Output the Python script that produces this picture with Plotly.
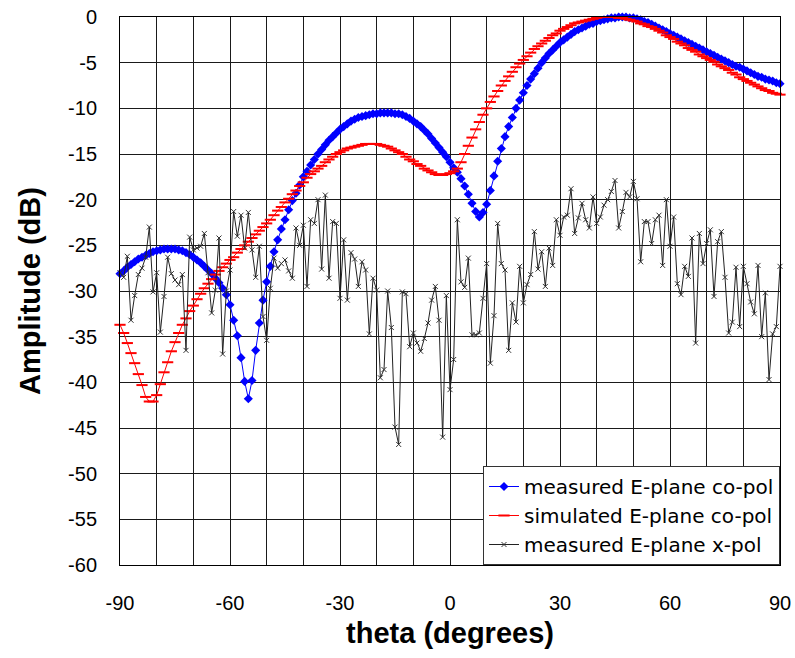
import plotly.graph_objects as go

# ---------------- data ----------------
theta = list(range(-90, 91))

measured_copol = [
    -28.1, -27.8, -27.4, -27.1, -26.8, -26.5, -26.3, -26.1, -25.9, -25.7,   # -90..-81
    -25.6, -25.5, -25.4, -25.4, -25.4, -25.4, -25.5, -25.6, -25.8, -26.0,   # -80..-71
    -26.3, -26.6, -26.9, -27.3, -27.7, -28.1, -28.6, -29.1, -29.7, -30.4,   # -70..-61
    -31.5, -33.2, -34.9, -37.3, -39.9, -41.8, -39.8, -36.5, -33.5, -31.0,   # -60..-51
    -29.0, -27.3, -25.7, -24.4, -23.2, -22.2, -21.1, -20.1, -19.3, -18.4,   # -50..-41
    -17.5, -16.9, -16.2, -15.6, -15.0, -14.5, -14.0, -13.5, -13.1, -12.7,   # -40..-31
    -12.3, -12.0, -11.7, -11.4, -11.2, -11.0, -10.9, -10.8, -10.7, -10.6,   # -30..-21
    -10.6, -10.5, -10.5, -10.5, -10.5, -10.6, -10.6, -10.7, -10.9, -11.1,   # -20..-11
    -11.4, -11.7, -12.0, -12.4, -12.8, -13.3, -13.8, -14.3, -14.8, -15.3,   # -10..-1
    -15.9, -16.5, -17.0, -17.7, -18.5, -19.4, -20.4, -21.3, -21.9, -21.4,   # 0..9
    -20.5, -19.0, -17.4, -15.8, -14.4, -13.1, -12.0, -11.0, -10.0, -9.1,    # 10..19
    -8.3, -7.5, -6.8, -6.2, -5.6, -5.0, -4.5, -4.0, -3.6, -3.2,             # 20..29
    -2.8, -2.5, -2.2, -1.9, -1.6, -1.4, -1.2, -1.0, -0.8, -0.7,             # 30..39
    -0.5, -0.4, -0.3, -0.2, -0.1, -0.1, 0.0, 0.0, 0.0, -0.1,                # 40..49
    -0.1, -0.2, -0.3, -0.5, -0.6, -0.8, -1.0, -1.2, -1.4, -1.6,             # 50..59
    -1.8, -2.0, -2.2, -2.4, -2.6, -2.8, -3.0, -3.2, -3.4, -3.6,             # 60..69
    -3.8, -4.0, -4.2, -4.4, -4.6, -4.8, -5.0, -5.2, -5.4, -5.5,             # 70..79
    -5.7, -5.9, -6.1, -6.3, -6.5, -6.6, -6.8, -6.9, -7.0, -7.2,             # 80..89
    -7.3,                                                                   # 90
]

simulated_copol = [
    -33.7, -34.6, -35.7, -36.8, -37.9, -39.1, -40.3, -41.6, -42.1, -42.1,   # -90..-81
    -41.4, -40.2, -38.9, -37.8, -36.6, -35.6, -34.6, -33.7, -33.0, -32.2,   # -80..-71
    -31.6, -30.9, -30.3, -29.7, -29.2, -28.7, -28.2, -27.8, -27.4, -27.0,   # -70..-61
    -26.6, -26.3, -25.8, -25.4, -25.0, -24.6, -24.2, -23.8, -23.4, -23.0,   # -60..-51
    -22.6, -22.2, -21.7, -21.2, -20.8, -20.3, -19.9, -19.4, -19.0, -18.5,   # -50..-41
    -18.1, -17.6, -17.2, -16.9, -16.6, -16.3, -15.9, -15.6, -15.3, -15.0,   # -40..-31
    -14.8, -14.6, -14.4, -14.3, -14.2, -14.1, -14.0, -13.9, -13.9, -13.9,   # -30..-21
    -13.9, -14.0, -14.1, -14.2, -14.4, -14.6, -14.8, -15.0, -15.3, -15.6,   # -20..-11
    -15.8, -16.1, -16.3, -16.6, -16.8, -17.0, -17.2, -17.3, -17.3, -17.2,   # -10..-1
    -17.1, -16.9, -16.6, -15.9, -15.0, -14.1, -13.2, -12.3, -11.5, -10.7,   # 0..9
    -10.0, -9.3, -8.7, -8.1, -7.5, -7.0, -6.5, -6.0, -5.5, -5.1,            # 10..19
    -4.7, -4.3, -3.9, -3.5, -3.2, -2.9, -2.6, -2.3, -2.0, -1.8,             # 20..29
    -1.5, -1.3, -1.1, -0.9, -0.7, -0.6, -0.5, -0.4, -0.3, -0.2,             # 30..39
    -0.1, 0.0, 0.0, 0.0, 0.0, 0.0, -0.1, -0.1, -0.2, -0.3,                  # 40..49
    -0.4, -0.5, -0.7, -0.8, -1.0, -1.1, -1.3, -1.5, -1.7, -2.0,             # 50..59
    -2.2, -2.4, -2.7, -2.9, -3.1, -3.4, -3.6, -3.8, -4.1, -4.3,             # 60..69
    -4.5, -4.7, -4.9, -5.2, -5.4, -5.6, -5.8, -6.1, -6.3, -6.6,             # 70..79
    -6.8, -7.0, -7.2, -7.4, -7.6, -7.8, -8.0, -8.1, -8.3, -8.4,             # 80..89
    -8.5,                                                                   # 90
]

measured_xpol = [
    -28.0, -28.5, -26.2, -33.2, -30.5, -28.2, -27.5, -26.3, -23.0, -30.1,   # -90..-81
    -28.0, -34.5, -30.6, -26.3, -28.1, -28.8, -29.3, -28.2, -36.5, -24.1,   # -80..-71
    -25.5, -25.3, -25.1, -23.7, -28.0, -32.4, -29.9, -24.2, -36.9, -30.0,   # -70..-61
    -27.7, -21.3, -24.0, -21.7, -25.3, -21.4, -25.5, -28.5, -25.1, -32.8,   # -60..-51
    -35.4, -29.7, -26.4, -27.5, -27.0, -26.6, -27.8, -28.6, -23.1, -25.0,   # -50..-41
    -22.8, -29.5, -22.2, -22.6, -20.0, -27.6, -19.5, -28.6, -22.4, -22.6,   # -40..-31
    -30.8, -24.4, -31.0, -25.8, -26.5, -29.5, -26.8, -27.7, -34.7, -28.6,   # -30..-21
    -29.9, -39.5, -38.6, -30.0, -34.0, -44.9, -46.8, -30.1, -30.3, -36.1,   # -20..-11
    -34.6, -35.7, -36.6, -35.2, -33.5, -31.0, -29.5, -33.2, -46.0, -30.5,   # -10..-1
    -40.8, -37.5, -22.2, -29.0, -29.6, -26.4, -34.8, -34.8, -34.6, -30.8,   # 0..9
    -27.0, -37.9, -32.7, -22.6, -27.0, -27.7, -36.5, -31.3, -33.4, -27.3,   # 10..19
    -31.3, -29.3, -28.2, -23.5, -27.6, -25.7, -29.5, -25.3, -27.2, -22.2,   # 20..29
    -23.9, -21.9, -21.7, -18.8, -23.7, -22.0, -20.4, -22.2, -23.1, -19.7,   # 30..39
    -22.6, -21.9, -20.6, -20.0, -19.1, -17.9, -23.1, -21.3, -19.2, -19.7,   # 40..49
    -18.0, -19.9, -26.8, -22.4, -22.4, -24.8, -22.2, -21.7, -27.2, -20.0,   # 50..59
    -25.1, -21.9, -29.2, -30.4, -27.3, -28.4, -24.2, -35.7, -23.7, -27.0,   # 60..69
    -24.8, -23.3, -30.6, -24.6, -23.5, -28.5, -34.6, -33.4, -27.4, -33.9,   # 70..79
    -27.3, -29.2, -31.2, -32.5, -27.2, -35.0, -30.2, -39.7, -34.7, -33.9,   # 80..89
    -27.3,                                                                  # 90
]

series_names = [
    "measured E-plane co-pol",
    "simulated E-plane co-pol",
    "measured E-plane x-pol",
]

x_tick_vals = [-90, -60, -30, 0, 30, 60, 90]
x_tick_text = ["-90", "-60", "-30", "0", "30", "60", "90"]
y_tick_vals = [0, -5, -10, -15, -20, -25, -30, -35, -40, -45, -50, -55, -60]
y_tick_text = ["0", "-5", "-10", "-15", "-20", "-25", "-30", "-35", "-40",
               "-45", "-50", "-55", "-60"]

FONT = "Arial, Liberation Sans, sans-serif"
LEGEND_FONT = "DejaVu Sans, Arial, sans-serif"
GRID = "#1a1a1a"

fig = go.Figure()

fig.add_trace(go.Scatter(
    x=theta, y=measured_copol, name=series_names[0], mode="lines+markers",
    legendgroup="a",
    line=dict(color="#0000ff", width=1),
    marker=dict(symbol="diamond", size=7, color="#0000ff"),
    cliponaxis=False,
))
fig.add_trace(go.Scatter(
    x=theta, y=simulated_copol, name=series_names[1], mode="lines+markers",
    legendgroup="b",
    line=dict(color="#ff0000", width=1),
    marker=dict(symbol="line-ew", size=8, color="#ff0000",
                line=dict(color="#ff0000", width=2)),
    cliponaxis=False,
))
fig.add_trace(go.Scatter(
    x=theta, y=measured_xpol, name=series_names[2], mode="lines+markers",
    legendgroup="c",
    line=dict(color="#222222", width=1),
    marker=dict(symbol="x-thin", size=5, color="#333333",
                line=dict(color="#333333", width=1)),
    cliponaxis=False,
))

fig.update_layout(
    width=795, height=658,
    margin=dict(l=120, r=15, t=17, b=93, autoexpand=False),
    paper_bgcolor="white", plot_bgcolor="white",
    font=dict(family=FONT, size=20, color="black"),
    showlegend=True,
    legend=dict(
        x=1, y=0, xanchor="right", yanchor="bottom",
        bgcolor="white", bordercolor="#333333", borderwidth=1,
        font=dict(family=LEGEND_FONT, size=20, color="black"),
        traceorder="grouped", tracegroupgap=0,
    ),
)

fig.update_xaxes(
    range=[-90, 90], automargin=False,
    tickmode="array", tickvals=x_tick_vals, ticktext=x_tick_text,
    showgrid=True, gridcolor=GRID, gridwidth=1,
    minor=dict(dtick=10, showgrid=True, gridcolor=GRID, gridwidth=1),
    showline=True, linecolor="black", linewidth=1, mirror=True,
    zeroline=False, ticks="", ticklabeloverflow="allow",
    ticklabelstandoff=20,
    tickfont=dict(family=FONT, size=20),
    title=dict(text="<b>theta (degrees)</b>", font=dict(family=FONT, size=29),
               standoff=9),
)
fig.update_yaxes(
    range=[-60, 0], automargin=False,
    tickmode="array", tickvals=y_tick_vals, ticktext=y_tick_text,
    showgrid=True, gridcolor=GRID, gridwidth=1,
    showline=True, linecolor="black", linewidth=1, mirror=True,
    zeroline=False, ticks="", ticklabeloverflow="allow",
    ticklabelstandoff=18,
    tickfont=dict(family=FONT, size=20),
    title=dict(text="<b>Amplitude (dB)</b>", font=dict(family=FONT, size=29),
               standoff=18),
)

# remove the browser's default 8px body margin so the figure fills the window
fig.write_html("out.html", config={"displayModeBar": False},
               post_script="document.body.style.margin='0';")
